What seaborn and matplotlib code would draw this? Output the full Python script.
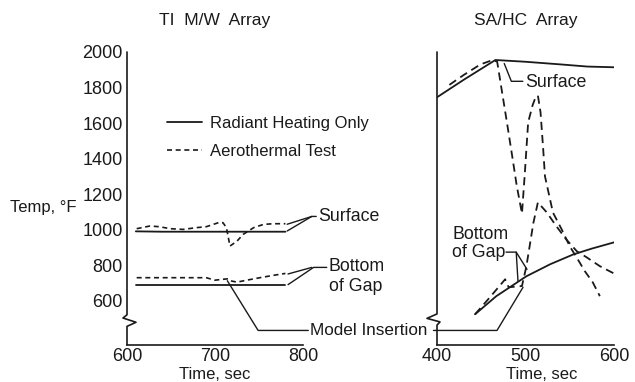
import numpy as np
import pandas as pd
import matplotlib
matplotlib.use("Agg")
import matplotlib.pyplot as plt
from matplotlib.lines import Line2D
import seaborn as sns

# ---------------- data: left panel (TI M/W Array) ----------------
tl_rad = [610, 640, 680, 720, 760, 780]
surf_rad_L = [990, 988, 988, 988, 988, 988]
bot_rad_L = [690, 690, 690, 690, 690, 690]
tl_aero_surf = [611, 626, 637, 649, 664, 679, 690, 698, 704, 709, 713, 717, 725, 732, 744, 755, 766, 780]
surf_aero_L = [1005, 1020, 1016, 1005, 1001, 1011, 1016, 1029, 1039, 1039, 1011, 907, 935, 973, 1011, 1029, 1033, 1033]
tl_aero_bot = [611, 645, 690, 700, 707, 715, 719, 725, 736, 751, 766, 780]
bot_aero_L = [729, 729, 729, 715, 719, 723, 710, 704, 715, 729, 742, 753]

# ---------------- data: right panel (SA/HC Array) ----------------
tr_rad_surf = [400, 430, 466, 500, 540, 570, 600]
surf_rad_R = [1745, 1843, 1955, 1945, 1930, 1918, 1914]
tr_aero_surf = [414, 430, 449, 463, 468, 473, 479, 485, 490, 496, 499, 503, 508, 511, 514, 517,
                520, 522, 531, 541, 550, 559, 567, 576, 584]
surf_aero_R = [1815, 1870, 1930, 1955, 1945, 1790, 1604, 1413, 1250, 1090, 1300, 1604, 1700, 1740,
               1755, 1660, 1452, 1300, 1096, 1000, 906, 833, 766, 703, 625]
tr_rad_bot = [443, 467, 501, 528, 554, 575, 600]
bot_rad_R = [523, 625, 737, 805, 860, 893, 928]
tr_aero_bot = [443, 460, 477, 481, 496, 501, 509, 514, 524, 535, 546, 558, 569, 584, 601]
bot_aero_R = [523, 620, 720, 675, 682, 793, 1040, 1153, 1097, 1018, 945, 878, 844, 794, 750]

yticks = [600, 800, 1000, 1200, 1400, 1600, 1800, 2000]
titles = ["TI  M/W  Array", "SA/HC  Array"]
legend_labels = ["Radiant Heating Only", "Aerothermal Test"]

sns.set_theme(style="white")
plt.rcParams['font.family'] = ['Liberation Sans', 'DejaVu Sans']
plt.rcParams['font.size'] = 12

INK = "#1a1a1a"
solid_kw = dict(color=INK, linewidth=1.3)
dash_L = dict(color=INK, linewidth=1.2, linestyle=(0, (3, 2.2)))
dash_R = dict(color=INK, linewidth=1.3, linestyle=(0, (4.5, 2.8)))

fig = plt.figure(figsize=(6.35, 3.82), dpi=100)
axL = fig.add_axes([127/635, 37/382, 176/635, 293/382])
axR = fig.add_axes([437/635, 37/382, 177/635, 293/382])

def line(ax, x, y, kw):
    sns.lineplot(x=x, y=y, ax=ax, sort=False, estimator=None, **kw)

line(axL, tl_rad, surf_rad_L, solid_kw)
line(axL, tl_rad, bot_rad_L, solid_kw)
line(axL, tl_aero_surf, surf_aero_L, dash_L)
line(axL, tl_aero_bot, bot_aero_L, dash_L)

line(axR, tr_rad_surf, surf_rad_R, solid_kw)
line(axR, tr_rad_bot, bot_rad_R, solid_kw)
line(axR, tr_aero_surf, surf_aero_R, dash_R)
line(axR, tr_aero_bot, bot_aero_R, dash_R)

breaks = {
    "L": ([0, 0, -4/176, 9/176, 0, 0], [2000, 520, 502, 478, 455, 350]),
    "R": ([0, 0, -10/177, 3/177, 0, 0], [2000, 525, 500, 480, 462, 350]),
}

for key, ax, (x0, x1), title in [("L", axL, (600, 800), titles[0]), ("R", axR, (400, 600), titles[1])]:
    ax.set_xlim(x0, x1)
    ax.set_ylim(350, 2000)
    ax.set_facecolor("white")
    for s in ["top", "right", "left"]:
        ax.spines[s].set_visible(False)
    ax.spines["bottom"].set_color(INK)
    ax.spines["bottom"].set_linewidth(1.2)
    ax.set_xticks([x0, (x0 + x1) / 2, x1])
    ax.set_xticks([x0 + 50, x0 + 150], minor=True)
    ax.set_yticks(yticks)
    ax.tick_params(axis="both", which="both", direction="in", length=6, width=1.1,
                   color=INK, labelsize=13, labelcolor=INK)
    ax.tick_params(axis="x", pad=2.5)
    ax.tick_params(axis="y", pad=3)
    ax.set_xlabel("Time, sec", fontsize=12, color=INK)
    ax.set_ylabel("")
    ax.set_title(title, fontsize=12.5, color=INK, pad=0, y=1.0 + 27/293)
    # broken y axis line
    tr = ax.get_yaxis_transform()
    bx, by = breaks[key]
    ax.plot(bx, by, transform=tr, color=INK, lw=1.2, clip_on=False)

axL.xaxis.set_label_coords(0.5, -0.075)
axR.xaxis.set_label_coords(0.59, -0.075)
axR.set_yticklabels([])

fig.text(10/635, 1 - 207/382, "Temp, °F", fontsize=12, color=INK, va="center", ha="left")

# legend
handles = [Line2D([], [], **solid_kw), Line2D([], [], **dash_L)]
leg = axL.legend(handles, legend_labels, loc="center left", frameon=False,
                 bbox_to_anchor=(167/635, 1 - 137.5/382), bbox_transform=fig.transFigure,
                 borderpad=0, borderaxespad=0, handlelength=2.1, handletextpad=0.5,
                 labelspacing=0.78, fontsize=12)
for t in leg.get_texts():
    t.set_color(INK)

lk = dict(color=INK, lw=1.0, clip_on=False)
FS = 12.8
# left annotations (left-axis data coords)
axL.plot([782, 810, 815], [992, 1074, 1074], **lk)
axL.plot([782, 810], [1030, 1074], **lk)
axL.plot([783, 812, 827], [690, 787, 787], **lk)
axL.plot([783, 810], [750, 787], **lk)
axL.plot([714, 749, 806], [712, 432, 432], **lk)
axL.text(817, 1076, "Surface", fontsize=FS, color=INK, va="center", ha="left", clip_on=False)
axL.text(829, 791, "Bottom", fontsize=FS, color=INK, va="center", ha="left", clip_on=False)
axL.text(830, 680, "of Gap", fontsize=FS, color=INK, va="center", ha="left", clip_on=False)
axL.text(808, 432, "Model Insertion", fontsize=12.3, color=INK, va="center", ha="left", clip_on=False)

# right annotations (right-axis data coords)
axR.plot([396, 467.8, 497.2], [432, 432, 675], **lk)
axR.plot([476, 484, 497], [1935, 1835, 1835], **lk)
axR.text(499.5, 1829, "Surface", fontsize=FS, color=INK, va="center", ha="left")
axR.plot([478, 489.5, 491.5], [873, 873, 710], **lk)
axR.plot([489.5, 501.7], [873, 776], **lk)
axR.text(417, 975, "Bottom", fontsize=FS, color=INK, va="center", ha="left")
axR.text(417, 872, "of Gap", fontsize=FS, color=INK, va="center", ha="left")

fig.savefig("out.png", dpi=100, facecolor="white")
